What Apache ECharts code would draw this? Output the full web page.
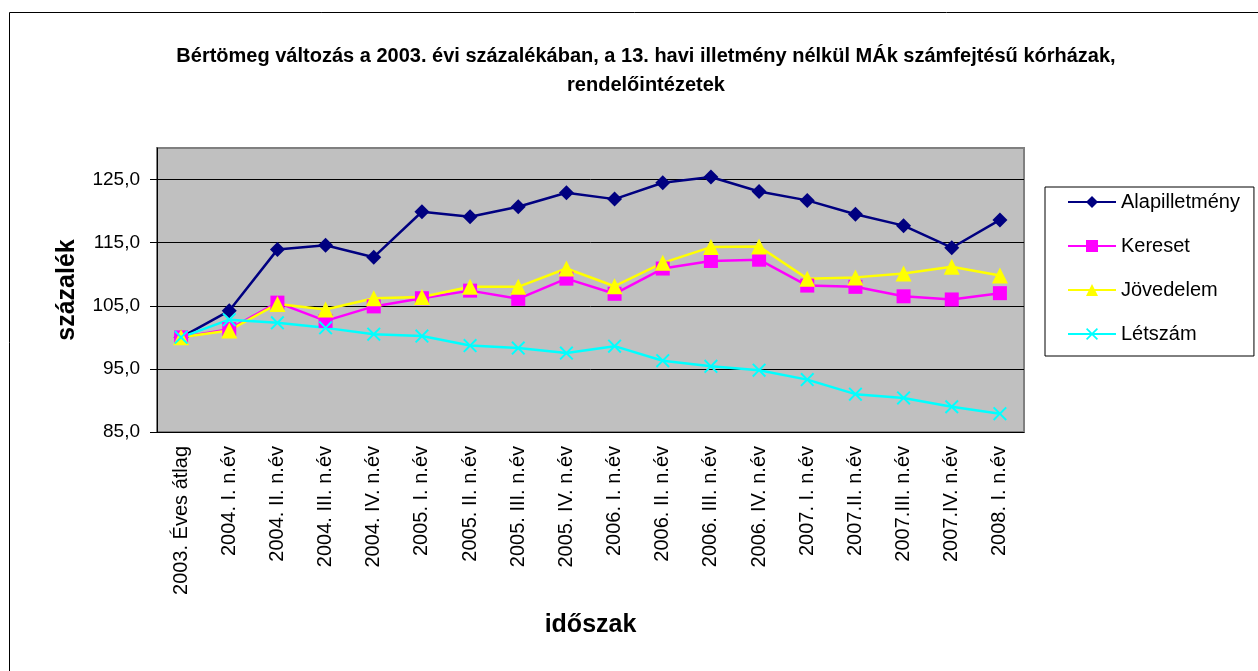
<!DOCTYPE html>
<html>
<head>
    <meta charset="UTF-8">
    <title>Bértömeg változás</title>
    <script src="https://cdn.jsdelivr.net/npm/echarts@6/dist/echarts.min.js"></script>
    <style>
        html, body { margin: 0; padding: 0; background: #fff; }
        #main { width: 1258px; height: 671px; }
    </style>
</head>
<body>
<div id="main"></div>
<script type="text/javascript">
    // időszakok (x tengely)
    var categories = ['2003. Éves átlag', '2004. I. n.év', '2004. II. n.év', '2004. III. n.év', '2004. IV. n.év',
        '2005. I. n.év', '2005. II. n.év', '2005. III. n.év', '2005. IV. n.év',
        '2006. I. n.év', '2006. II. n.év', '2006. III. n.év', '2006. IV. n.év',
        '2007. I. n.év', '2007.II. n.év', '2007.III. n.év', '2007.IV. n.év', '2008. I. n.év'];

    var alapilletmeny = [100.0, 104.2, 113.9, 114.6, 112.7, 119.9, 119.1, 120.7, 122.9, 121.9, 124.5, 125.4, 123.1, 121.7, 119.5, 117.7, 114.2, 118.6];
    var kereset = [100.0, 101.3, 105.5, 102.6, 104.9, 106.2, 107.4, 106.1, 109.3, 106.9, 110.9, 112.1, 112.3, 108.2, 108.0, 106.5, 106.0, 107.0];
    var jovedelem = [100.0, 101.1, 105.3, 104.4, 106.2, 106.4, 108.0, 108.0, 110.9, 108.1, 111.8, 114.3, 114.4, 109.3, 109.5, 110.1, 111.2, 109.8];
    var letszam = [100.0, 102.8, 102.3, 101.5, 100.5, 100.2, 98.7, 98.3, 97.5, 98.6, 96.3, 95.4, 94.8, 93.3, 91.0, 90.4, 89.0, 87.9];

    // y tengely
    var yMin = 85, yMax = 130, yStep = 10;

    var font = 'Arial, "Liberation Sans", sans-serif';
    var crossSymbol = 'path://M0,1 L1,0 L5,4 L9,0 L10,1 L6,5 L10,9 L9,10 L5,6 L1,10 L0,9 L4,5 Z';

    function lineSeries(name, data, color, symbol, size) {
        return {
            name: name,
            type: 'line',
            data: data,
            symbol: symbol,
            symbolSize: size,
            showAllSymbol: true,
            lineStyle: {color: color, width: 2.5},
            itemStyle: {color: color},
            emphasis: {disabled: true}
        };
    }

    var myChart = echarts.init(document.getElementById('main'));
    var option = {
        animation: false,
        textStyle: {fontFamily: font},
        title: {
            text: 'Bértömeg változás a 2003. évi százalékában, a 13. havi illetmény nélkül MÁk számfejtésű kórházak,\nrendelőintézetek',
            left: 641,
            top: 37,
            textAlign: 'center',
            textStyle: {fontFamily: font, fontSize: 20, fontWeight: 'bold', color: '#000', lineHeight: 29}
        },
        graphic: [{
            type: 'rect',
            shape: {x: 9.5, y: 12.5, width: 1260, height: 670},
            style: {fill: 'none', stroke: '#000', lineWidth: 1},
            silent: true
        }],
        legend: {
            orient: 'vertical',
            left: 1045,
            top: 187,
            padding: [5, 14, 12, 22],
            itemGap: 24,
            itemWidth: 48,
            itemHeight: 15,
            borderColor: '#000',
            borderWidth: 1,
            textStyle: {fontFamily: font, fontSize: 20, color: '#000', lineHeight: 20},
            data: ['Alapilletmény', 'Kereset', 'Jövedelem', 'Létszám']
        },
        grid: {
            left: 157,
            top: 148,
            right: 234,
            bottom: 239,
            show: true,
            backgroundColor: '#c0c0c0',
            borderColor: '#808080',
            borderWidth: 2
        },
        xAxis: {
            type: 'category',
            data: categories,
            boundaryGap: true,
            name: 'időszak',
            nameLocation: 'middle',
            nameGap: 181,
            nameTextStyle: {fontFamily: font, fontSize: 25, fontWeight: 'bold', color: '#000', verticalAlign: 'top'},
            axisLine: {lineStyle: {color: '#000', width: 1}},
            axisTick: {alignWithLabel: false, length: 6, lineStyle: {color: '#000'}},
            axisLabel: {rotate: 90, margin: 14, interval: 0, fontSize: 20, color: '#000', fontFamily: font},
            splitLine: {show: false}
        },
        yAxis: {
            type: 'value',
            min: yMin,
            max: yMax,
            interval: yStep,
            name: 'százalék',
            nameLocation: 'middle',
            nameGap: 77,
            nameTextStyle: {fontFamily: font, fontSize: 25, fontWeight: 'bold', color: '#000'},
            axisLine: {show: true, lineStyle: {color: '#000', width: 1}},
            axisTick: {show: true, length: 7, lineStyle: {color: '#000'}},
            axisLabel: {
                margin: 17,
                fontSize: 19,
                color: '#000',
                fontFamily: font,
                showMaxLabel: false,
                formatter: function (v) { return v.toFixed(1).replace('.', ','); }
            },
            splitLine: {show: true, showMaxLine: false, lineStyle: {color: '#000', width: 1}}
        },
        series: [
            lineSeries('Alapilletmény', alapilletmeny, '#000080', 'diamond', 15),
            lineSeries('Kereset', kereset, '#ff00ff', 'rect', 14),
            lineSeries('Jövedelem', jovedelem, '#ffff00', 'triangle', 16),
            lineSeries('Létszám', letszam, '#00ffff', crossSymbol, 14)
        ]
    };
    myChart.setOption(option);
</script>
</body>
</html>
